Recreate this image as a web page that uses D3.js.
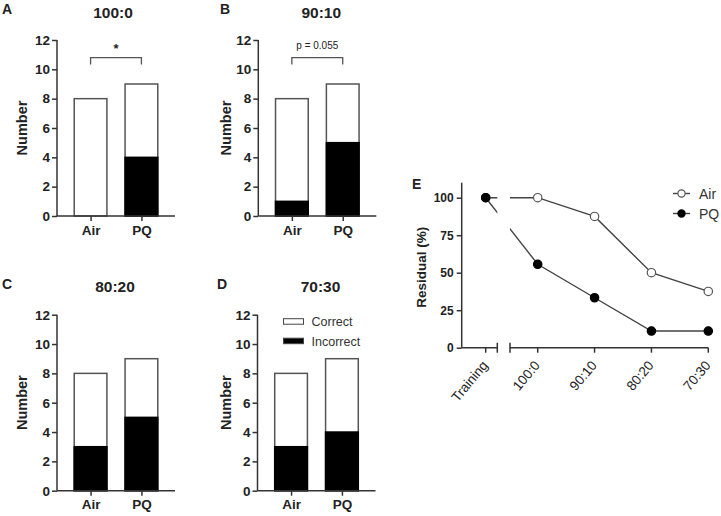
<!DOCTYPE html>
<html>
<head>
<meta charset="utf-8">
<script src="https://cdn.jsdelivr.net/npm/d3@7"></script>
<style>
  body { margin: 0; background: #fff; }
  svg { font-family: "Liberation Sans", Arial, sans-serif; }
</style>
</head>
<body>
<svg id="fig" width="721" height="516"></svg>
<script>
// ---- data ----
const groups = ["Air", "PQ"];
const ratios = ["100:0", "90:10", "80:20", "70:30"];
const totalAir = [8, 8, 8, 8];
const totalPQ = [9, 9, 9, 9];
const incorrectAir = [0, 1, 3, 3];
const incorrectPQ = [4, 5, 5, 4];
const yTicksBar = [0, 2, 4, 6, 8, 10, 12];

const stageLabels = ["Training", "100:0", "90:10", "80:20", "70:30"];
const residualAir = [100, 100, 87.5, 50, 37.5];
const residualPQ = [100, 55.6, 33.3, 11.1, 11.1];
const yTicksRes = [0, 25, 50, 75, 100];

const ink = "#222", axisCol = "#333", lineCol = "#444";

const svg = d3.select("#fig");

// panel layout for the four bar charts
const panels = [
  { letter: "A", x0: 57,    y0: 216,   lx: 2,   ly: 13.5,  tdx: 56, labDx: -30, note: "*" },
  { letter: "B", x0: 258.3, y0: 216,   lx: 220, ly: 13.5,  tdx: 63, labDx: -27, note: "p = 0.055" },
  { letter: "C", x0: 57,    y0: 490.7, lx: 2,   ly: 288.5, tdx: 58, labDx: -30, note: null },
  { letter: "D", x0: 257.5, y0: 490.7, lx: 217, ly: 288.5, tdx: 63, labDx: -27, note: null, legend: true }
];
const plotW = 118, plotH = 176, barW = 32.7;

panels.forEach((p, i) => {
  const g = svg.append("g").attr("transform", `translate(${p.x0},${p.y0 - plotH})`);

  const x = d3.scalePoint().domain(groups).range([0, plotW]).padding(0.66);
  const y = d3.scaleLinear().domain([0, 12]).range([plotH, 0]);

  const rows = [
    { grp: "Air", total: totalAir[i], wrong: incorrectAir[i] },
    { grp: "PQ", total: totalPQ[i], wrong: incorrectPQ[i] }
  ];

  // correct (white) part = whole bar, incorrect (black) on top of it
  g.selectAll(".bar-tot").data(rows).join("rect")
    .attr("x", d => x(d.grp) - barW / 2)
    .attr("y", d => y(d.total))
    .attr("width", barW)
    .attr("height", d => y(0) - y(d.total))
    .attr("fill", "#fff").attr("stroke", "#555").attr("stroke-width", 1.5);

  g.selectAll(".bar-bad").data(rows.filter(d => d.wrong > 0)).join("rect")
    .attr("x", d => x(d.grp) - barW / 2)
    .attr("y", d => y(d.wrong))
    .attr("width", barW)
    .attr("height", d => y(0) - y(d.wrong))
    .attr("fill", "#000").attr("stroke", "#000").attr("stroke-width", 1.5);

  // axes
  const yAx = g.append("g")
    .call(d3.axisLeft(y).tickValues(yTicksBar).tickSize(5).tickPadding(2));
  const xAx = g.append("g").attr("transform", `translate(0,${plotH})`)
    .call(d3.axisBottom(x).tickSize(5).tickPadding(4));
  xAx.select(".domain").attr("d", `M0,0H${plotW}`);
  yAx.select(".domain").attr("d", `M0,${plotH}V0`);
  [yAx, xAx].forEach(a => {
    a.selectAll("path,line").attr("stroke", axisCol).attr("stroke-width", 1.5);
    a.selectAll("text").attr("fill", ink).attr("font-size", 13.5).attr("font-weight", "bold");
  });

  // y label
  g.append("text")
    .attr("transform", `translate(${p.labDx},${plotH / 2}) rotate(-90)`)
    .attr("text-anchor", "middle")
    .attr("font-size", 14.5).attr("font-weight", "bold").attr("fill", ink)
    .text("Number");

  // title + panel letter
  svg.append("text").attr("x", p.x0 + p.tdx).attr("y", p.y0 - plotH - 22.5)
    .attr("text-anchor", "middle").attr("font-size", 15.5).attr("font-weight", "bold")
    .attr("fill", ink).text(ratios[i]);
  svg.append("text").attr("x", p.lx).attr("y", p.ly)
    .attr("font-size", 14).attr("font-weight", "bold").attr("fill", ink).text(p.letter);

  // significance bracket
  if (p.note) {
    const by = y(10.8), x1 = x("Air"), x2 = x("PQ");
    g.append("path")
      .attr("d", `M${x1},${by + 7}V${by}H${x2}V${by + 7}`)
      .attr("fill", "none").attr("stroke", "#555").attr("stroke-width", 1.3);
    g.append("text").attr("x", (x1 + x2) / 2)
      .attr("y", p.note === "*" ? by - 5 : by - 9)
      .attr("text-anchor", "middle")
      .attr("font-size", p.note === "*" ? 13 : 10)
      .attr("font-weight", p.note === "*" ? "bold" : "normal")
      .attr("fill", ink).text(p.note);
  }

  if (p.legend) {
    const items = [
      { name: "Correct", fill: "#fff" },
      { name: "Incorrect", fill: "#000" }
    ];
    const lg = g.selectAll(".leg").data(items).join("g")
      .attr("transform", (d, k) => `translate(26,${4 + k * 19.5})`);
    lg.append("rect").attr("width", 20).attr("height", 5.5)
      .attr("fill", d => d.fill).attr("stroke", "#444").attr("stroke-width", 1);
    lg.append("text").attr("x", 28).attr("y", 7.5)
      .attr("font-size", 12.5).attr("fill", "#333").text(d => d.name);
  }
});

// ---- panel E: residual line chart with broken x axis ----
const eX0 = 461.7, eY0 = 347.7, eTop = 182.7;
const gapL = 497.3, gapR = 510, eRight = 708.3;
const xr = d3.scaleLinear().domain([0, 1, 4]).range([485.7, 537.7, eRight]);
const yr = d3.scaleLinear().domain([0, 110]).range([eY0, eTop]);

const defs = svg.append("defs");
const clip = defs.append("clipPath").attr("id", "brk");
clip.append("rect").attr("x", eX0).attr("y", 0).attr("width", gapL - eX0).attr("height", 516);
clip.append("rect").attr("x", gapR).attr("y", 0).attr("width", 721 - gapR).attr("height", 516);

const line = d3.line().x((d, i) => xr(i)).y(d => yr(d));
const series = [
  { name: "Air", vals: residualAir, fill: "#fff" },
  { name: "PQ", vals: residualPQ, fill: "#000" }
];

series.forEach(s => {
  svg.append("path").datum(s.vals)
    .attr("d", line).attr("clip-path", "url(#brk)")
    .attr("fill", "none").attr("stroke", lineCol).attr("stroke-width", 1.4);
});
series.forEach(s => {
  svg.selectAll(".pt-" + s.name).data(s.vals).join("circle")
    .attr("cx", (d, i) => xr(i)).attr("cy", d => yr(d)).attr("r", 4.2)
    .attr("fill", s.fill).attr("stroke", s.name === "Air" ? "#555" : "#000").attr("stroke-width", 1.2);
});

// y axis
const eyAx = svg.append("g").attr("transform", `translate(${eX0},0)`)
  .call(d3.axisLeft(yr).tickValues(yTicksRes).tickSize(5).tickPadding(3));
eyAx.select(".domain").attr("d", `M0,${eY0}V${eTop}`);
eyAx.selectAll("path,line").attr("stroke", axisCol).attr("stroke-width", 1.5);
eyAx.selectAll("text").attr("fill", ink).attr("font-size", 12).attr("font-weight", "bold");

// broken x axis
const ex = svg.append("g");
ex.append("path")
  .attr("d", `M${eX0},${eY0}H${gapL}M${gapL},${eY0 - 5}V${eY0 + 5}` +
             `M${gapR},${eY0 - 5}V${eY0 + 5}M${gapR},${eY0}H${eRight}`)
  .attr("fill", "none").attr("stroke", axisCol).attr("stroke-width", 1.5);
ex.selectAll(".tk").data(stageLabels).join("line")
  .attr("x1", (d, i) => xr(i)).attr("x2", (d, i) => xr(i))
  .attr("y1", eY0).attr("y2", eY0 + 5)
  .attr("stroke", axisCol).attr("stroke-width", 1.5);
ex.selectAll(".tl").data(stageLabels).join("text")
  .attr("transform", (d, i) => `translate(${xr(i) + 3},${eY0 + 18}) rotate(-50)`)
  .attr("text-anchor", "end").attr("font-size", 13.5).attr("fill", ink)
  .text(d => d);

svg.append("text")
  .attr("transform", `translate(426,${(eY0 + eTop) / 2 + 2}) rotate(-90)`)
  .attr("text-anchor", "middle").attr("font-size", 13.5).attr("font-weight", "bold")
  .attr("fill", ink).text("Residual (%)");
svg.append("text").attr("x", 412).attr("y", 189)
  .attr("font-size", 14).attr("font-weight", "bold").attr("fill", ink).text("E");

// legend E
const le = svg.selectAll(".legE").data(series).join("g")
  .attr("transform", (d, k) => `translate(673,${193.5 + k * 20})`);
le.append("line").attr("x1", 0).attr("x2", 17)
  .attr("stroke", lineCol).attr("stroke-width", 1.4);
le.append("circle").attr("cx", 8.5).attr("r", 3.6)
  .attr("fill", d => d.fill).attr("stroke", d => d.name === "Air" ? "#555" : "#000").attr("stroke-width", 1.2);
le.append("text").attr("x", 26).attr("y", 5)
  .attr("font-size", 14).attr("fill", "#333").text(d => d.name);
</script>
</body>
</html>
